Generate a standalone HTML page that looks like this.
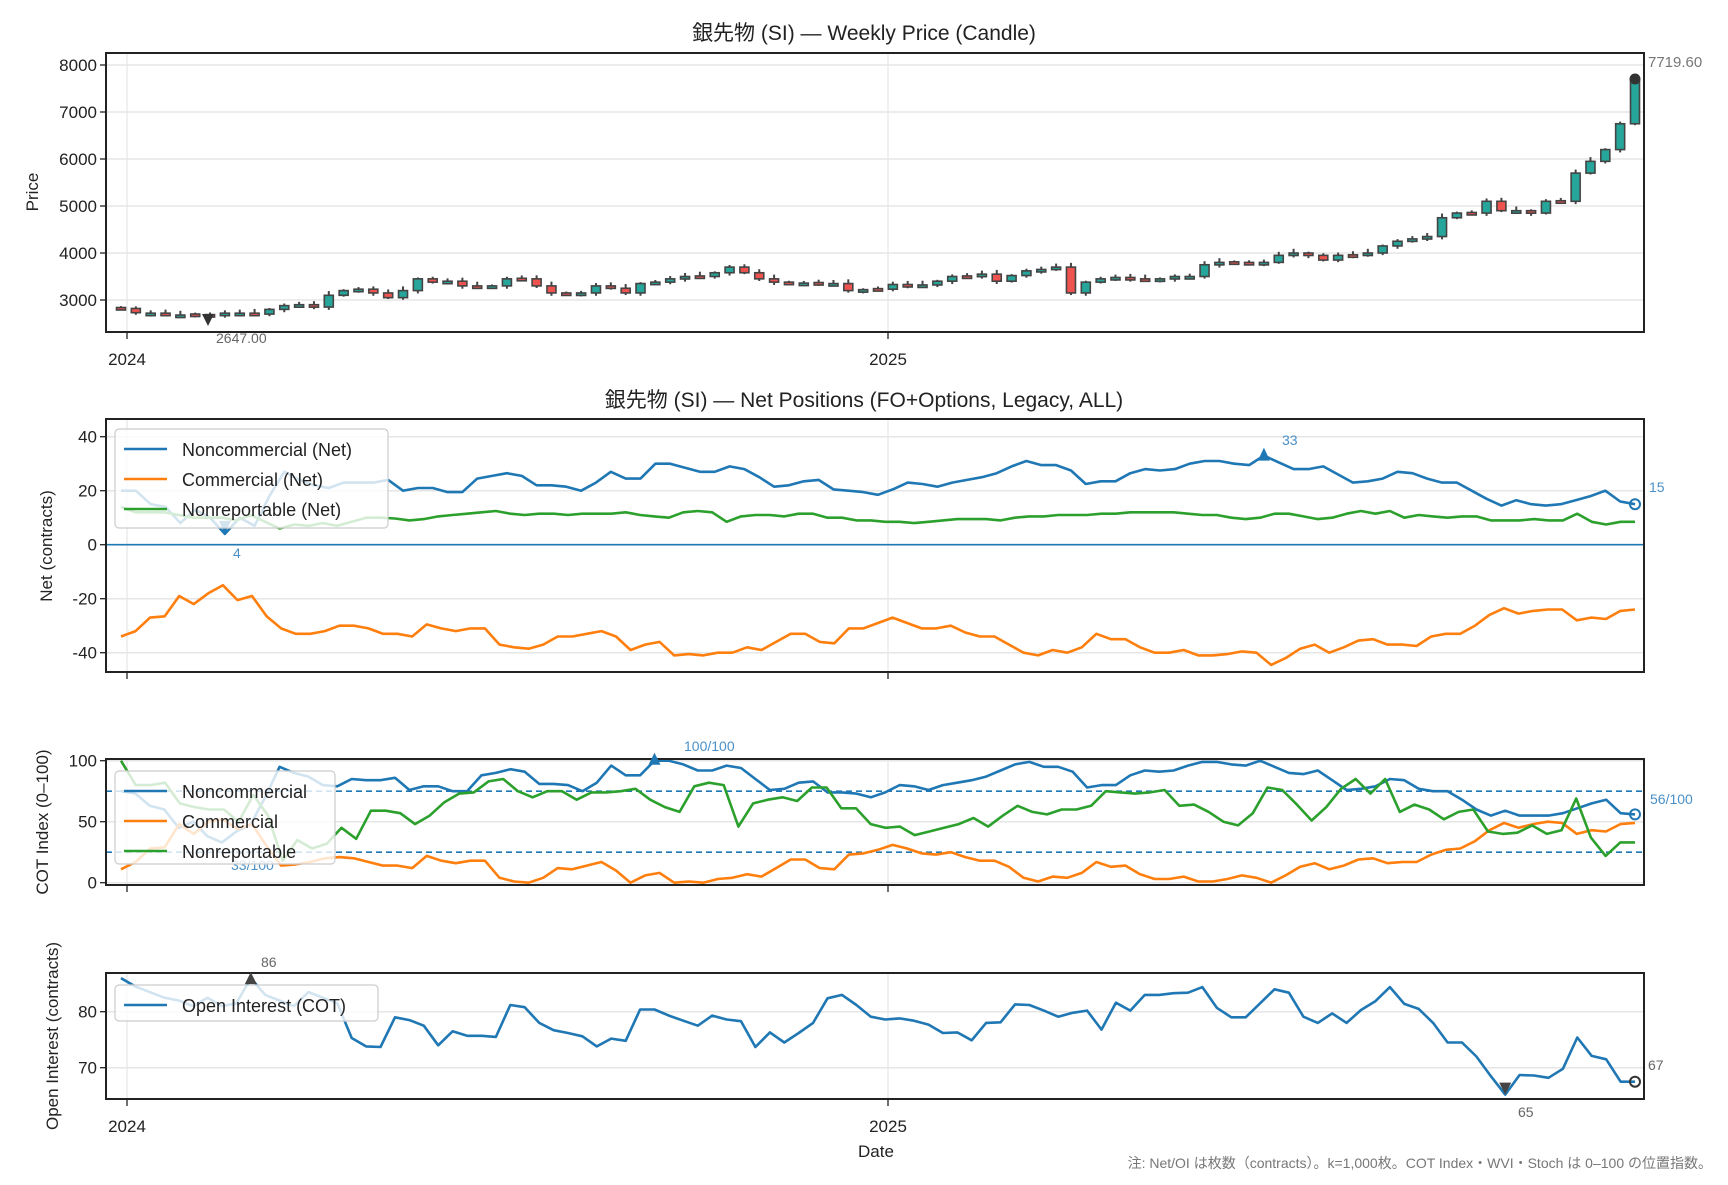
<!DOCTYPE html>
<html><head><meta charset="utf-8">
<style>
html,body{margin:0;padding:0;background:#fff;}
svg text{font-family:"Liberation Sans","Noto Sans CJK JP",sans-serif;}
</style></head>
<body>
<svg id="s" width="1728" height="1180" xmlns="http://www.w3.org/2000/svg"></svg>
<script>
const S=document.getElementById('s');
let h='';
const X0=121,X1=1635,L=106,R=1644,T25=888;
function xs(i,n){return X0+i*(X1-X0)/(n-1);}
function txt(x,y,t,o={}){h+=`<text x="${x}" y="${y}" font-size="${o.fs||16}" fill="${o.c||'#222'}" text-anchor="${o.a||'start'}" ${o.tr?`transform="${o.tr}"`:''}>${t}</text>`;}
function line(x1,y1,x2,y2,c,w,d){h+=`<line x1="${x1}" y1="${y1}" x2="${x2}" y2="${y2}" stroke="${c}" stroke-width="${w}" ${d?`stroke-dasharray="${d}"`:''}/>`;}
function poly(arr,fy,c,w){const n=arr.length;h+=`<polyline fill="none" stroke="${c}" stroke-width="${w||2.6}" stroke-linejoin="round" points="${arr.map((v,i)=>xs(i,n).toFixed(1)+','+fy(v).toFixed(1)).join(' ')}"/>`;}
function frame(t,b,yt,fy){
  yt.forEach(v=>{const y=fy(v);line(L,y,R,y,'#e6e6e6',1.5);line(L-6,y,L,y,'#222',1.3);txt(L-9,y+6,v,{a:'end',fs:17});});
  line(127,t,127,b,'#e6e6e6',1.2);line(T25,t,T25,b,'#e6e6e6',1.2);
  line(127,b,127,b+7,'#222',1.3);line(T25,b,T25,b+7,'#222',1.3);
}
function box(t,b){h+=`<rect x="${L}" y="${t}" width="${R-L}" height="${b-t}" fill="none" stroke="#222" stroke-width="2"/>`;}
const blue='#1f77b4',orange='#ff7f0e',green='#2ca02c';

// Titles
txt(864,40,'銀先物 (SI) — Weekly Price (Candle)',{a:'middle',fs:21});
txt(864,407,'銀先物 (SI) — Net Positions (FO+Options, Legacy, ALL)',{a:'middle',fs:21});

// Panel 1
const fp=p=>65+(8000-p)*0.047;
frame(53,332,[3000,4000,5000,6000,7000,8000],fp);
const C=[2820,2730,2720,2690,2680,2690,2670,2720,2720,2700,2800,2880,2900,2850,3100,3200,3230,3150,3050,3200,3450,3380,3400,3300,3280,3300,3450,3450,3300,3150,3120,3150,3300,3250,3150,3350,3380,3450,3500,3500,3580,3700,3580,3450,3380,3350,3360,3360,3350,3200,3220,3230,3330,3310,3320,3400,3500,3500,3550,3400,3520,3620,3650,3700,3150,3380,3450,3480,3450,3420,3450,3500,3500,3750,3800,3800,3780,3800,3950,4000,3950,3850,3950,3950,4000,4150,4250,4300,4350,4750,4850,4850,5100,4900,4900,4850,5100,5100,5700,5950,6200,6750,7700];
const n1=C.length;
for(let i=0;i<n1;i++){
  const x=xs(i,n1);let o=i?C[i-1]:2840,c=C[i];
  if(Math.abs(c-o)<15){o=c+ (i%2?12:-12);}
  const hi=Math.max(o,c)+30+(i%5)*15,lo=Math.min(o,c)-30-(i%3)*15;
  line(x,fp(hi),x,fp(lo),'#444',2);
  const top=fp(Math.max(o,c)),bt=fp(Math.min(o,c));
  h+=`<rect x="${x-4.5}" y="${top}" width="9" height="${Math.max(bt-top,2.5)}" fill="${c>=o?'#26a69a':'#ef5350'}" stroke="#444" stroke-width="1.6"/>`;
}
box(53,332);
h+=`<polygon points="202,314 214,314 208,326" fill="#333"/>`;
txt(216,343,'2647.00',{fs:14,c:'#666'});
h+=`<circle cx="1635" cy="79" r="5.5" fill="#333"/>`;
txt(1648,67,'7719.60',{fs:15,c:'#777'});
txt(127,365,'2024',{a:'middle',fs:17});txt(T25,365,'2025',{a:'middle',fs:17});
txt(38,192,'Price',{a:'middle',fs:17,tr:'rotate(-90 38 192)'});

// Panel 2
const fn=v=>544.7-2.7*v;
frame(419,672,[-40,-20,0,20,40],fn);
line(L,fn(0),R,fn(0),blue,1.6);
const NC=[20,20,15,14,8,13,10,4,10,7,18,27,24,22,21,23,23,23,24,20,21,21,19.5,19.5,24.5,25.5,26.5,25.5,22,22,21.5,20,23,27,24.5,24.5,30,30,28.5,27,27,29,28,25,21.5,22,23.5,24,20.5,20,19.5,18.5,20.5,23,22.5,21.5,23,24,25,26.5,29,31,29.5,29.5,27.5,22.5,23.5,23.5,26.5,28,27.5,28,30,31,31,30,29.5,33,30.5,28,28,29,26,23,23.5,24.5,27,26.5,24.5,23,23,20,17,14.5,16.5,15,14.5,15,16.5,18,20,16,15];
const CM=[-34,-32,-27,-26.5,-19,-22,-18,-15,-20.5,-19,-26.5,-31,-33,-33,-32,-30,-30,-31,-33,-33,-34,-29.5,-31,-32,-31,-31,-37,-38,-38.5,-37,-34,-34,-33,-32,-34,-39,-37,-36,-41,-40.5,-41,-40,-40,-38,-39,-36,-33,-33,-36,-36.5,-31,-31,-29,-27,-29,-31,-31,-30,-32.5,-34,-34,-37,-40,-41,-39,-40,-38,-33,-35,-35,-38,-40,-40,-39,-41,-41,-40.5,-39.5,-40,-44.5,-42,-38.5,-37,-40,-38,-35.5,-35,-37,-37,-37.5,-34,-33,-33,-30,-26,-23.5,-25.5,-24.5,-24,-24,-28,-27,-27.5,-24.5,-24];
const NR=[14,12,12,12,11,10,10,10,9,11,8.5,6,7.5,7,8,7,8.5,10,10,9.7,9,9.5,10.5,11,11.5,12,12.5,11.5,11,11.5,11.5,11,11.5,11.5,11.5,12,11,10.5,10,12,12.5,12,8.5,10.5,11,11,10.5,11.5,11.5,10,10,9,9,8.5,8.5,8,8.5,9,9.5,9.5,9.5,9,10,10.5,10.5,11,11,11,11.5,11.5,12,12,12,12,11.5,11,11,10,9.5,10,11.5,11.5,10.5,9.5,10,11.5,12.5,11.5,12.5,10,11,10.5,10,10.5,10.5,9,9,9,9.5,9,9,11.5,8.5,7.5,8.5,8.5];
poly(NC,fn,blue);poly(CM,fn,orange);poly(NR,fn,green);
box(419,672);
{const x=xs(7,NC.length);h+=`<polygon points="${x-6},${fn(4)-13} ${x+6},${fn(4)-13} ${x},${fn(4)}" fill="${blue}"/>`;}
txt(233,558,'4',{fs:14,c:'#4a90c8'});
{const x=xs(77,NC.length);h+=`<polygon points="${x-6},${fn(33)+5} ${x+6},${fn(33)+5} ${x},${fn(33)-8}" fill="${blue}"/>`;}
txt(1282,445,'33',{fs:14,c:'#4a90c8'});
h+=`<circle cx="1635" cy="${fn(15)}" r="5" fill="none" stroke="${blue}" stroke-width="2"/>`;
txt(1649,492,'15',{fs:14,c:'#4a90c8'});
function legend(x,y,w,hh,items){
  h+=`<rect x="${x}" y="${y}" width="${w}" height="${hh}" rx="4" fill="rgba(255,255,255,0.8)" stroke="#ccc" stroke-width="1.2"/>`;
  items.forEach((it,k)=>{const yy=y+20+k*30;line(x+9,yy,x+52,yy,it[1],2.6);txt(x+67,yy+7,it[0],{fs:18});});
}
legend(115,429,273,99,[['Noncommercial (Net)',blue],['Commercial (Net)',orange],['Nonreportable (Net)',green]]);
txt(52,546,'Net (contracts)',{a:'middle',fs:17,tr:'rotate(-90 52 546)'});

// Panel 3
const fc=v=>882.7-1.22*v;
frame(759,885,[0,50,100],fc);
line(L,fc(75),R,fc(75),blue,1.6,'6,4');line(L,fc(25),R,fc(25),blue,1.6,'6,4');
const IB=[75,73,63,60,45,50,38,33,42,48,70,95,90,87,80,79,85,84,84,86,76,79,79,75,75,88,90,93,91,81,81,80,75,82,96,88,88,100,100,97,92,92,96,94,85,76,77,82,83,74,74,73,70,74,80,79,76,80,82,84,87,92,97,99,95,95,91,78,80,80,88,92,91,92,96,99,99,97,96,100,95,90,89,92,84,76,77,79,85,84,77,75,75,68,60,55,59,55,55,55,57,61,65,68,57,56];
const IO=[11,17,28,29,48,40,50,52,44,48,30,14,15,17,20,21,20,17,14,14,12,22,18,16,18,18,4,1,0,4,12,11,14,17,10,0,6,8,0,1,0,3,4,7,5,12,19,19,12,11,23,24,27,31,28,24,23,25,21,18,18,13,4,1,5,4,8,17,13,14,7,3,3,5,1,1,3,6,4,0,6,13,16,11,14,19,20,16,17,17,23,27,28,34,43,49,45,48,50,49,40,43,42,48,49];
const IG=[100,80,80,82,65,62,60,60,50,72,55,18,35,28,32,45,36,59,59,57,48,55,66,73,74,83,85,75,70,75,75,68,74,74,75,77,68,62,58,79,82,80,46,65,68,70,67,78,78,61,61,48,45,46,39,42,45,48,53,46,55,63,58,56,60,60,63,75,74,73,74,76,63,64,58,50,47,57,78,76,64,51,62,77,85,73,85,58,64,60,52,58,60,42,40,41,47,40,43,69,37,22,33,33];
poly(IB,fc,blue);poly(IO,fc,orange);poly(IG,fc,green);
box(759,885);
{const x=xs(37,IB.length);h+=`<polygon points="${x-6},${fc(100)+4} ${x+6},${fc(100)+4} ${x},${fc(100)-8}" fill="${blue}"/>`;}
txt(684,751,'100/100',{fs:14,c:'#4a90c8'});
txt(231,870,'33/100',{fs:14,c:'#4a90c8'});
h+=`<circle cx="1635" cy="${fc(56)}" r="5" fill="none" stroke="${blue}" stroke-width="2"/>`;
txt(1650,804,'56/100',{fs:14,c:'#4a90c8'});
legend(115,771,220,93,[['Noncommercial',blue],['Commercial',orange],['Nonreportable',green]]);
txt(48,822,'COT Index (0–100)',{a:'middle',fs:17,tr:'rotate(-90 48 822)'});

// Panel 4
const fo=v=>1011.7-(v-80)*5.6;
frame(973,1099,[70,80],fo);
const OI=[86,84.5,83.5,82.5,82,81,82.5,81,81.5,86,83,82,81,83.5,82.5,81.5,75.3,73.8,73.7,79,78.5,77.5,74,76.5,75.7,75.7,75.5,81.2,80.8,78,76.7,76.2,75.6,73.8,75.2,74.8,80.4,80.4,79.3,78.4,77.5,79.3,78.6,78.3,73.7,76.3,74.5,76.2,78,82.4,83,81.2,79.1,78.6,78.8,78.4,77.7,76.2,76.3,74.9,78,78.1,81.3,81.2,80.2,79.1,79.8,80.2,76.8,81.6,80.2,83,83,83.3,83.4,84.4,80.7,79,79,81.5,84,83.4,79.1,78,79.7,78,80.3,81.9,84.4,81.4,80.5,78,74.5,74.5,72,68.5,65.2,68.7,68.6,68.2,69.8,75.4,72.1,71.5,67.5,67.5];
poly(OI,fo,blue);
box(973,1099);
{const x=xs(9,OI.length);h+=`<polygon points="${x-6},${fo(86)+6} ${x+6},${fo(86)+6} ${x},${fo(86)-6}" fill="#444"/>`;}
txt(261,967,'86',{fs:14,c:'#666'});
{const x=xs(96,OI.length);h+=`<polygon points="${x-6},${fo(65.2)-12} ${x+6},${fo(65.2)-12} ${x},${fo(65.2)}" fill="#444"/>`;}
txt(1518,1117,'65',{fs:14,c:'#666'});
h+=`<circle cx="1635" cy="${fo(67.5)}" r="5" fill="none" stroke="#333" stroke-width="2"/>`;
txt(1648,1070,'67',{fs:14,c:'#666'});
legend(115,985,263,36,[['Open Interest (COT)',blue]]);
txt(127,1132,'2024',{a:'middle',fs:17});txt(T25,1132,'2025',{a:'middle',fs:17});
txt(876,1157,'Date',{a:'middle',fs:17});
txt(58,1036,'Open Interest (contracts)',{a:'middle',fs:17,tr:'rotate(-90 58 1036)'});
txt(1712,1168,'注: Net/OI は枚数（contracts）。k=1,000枚。COT Index・WVI・Stoch は 0–100 の位置指数。',{a:'end',fs:14,c:'#777'});
S.innerHTML=h;
</script>
</body></html>
